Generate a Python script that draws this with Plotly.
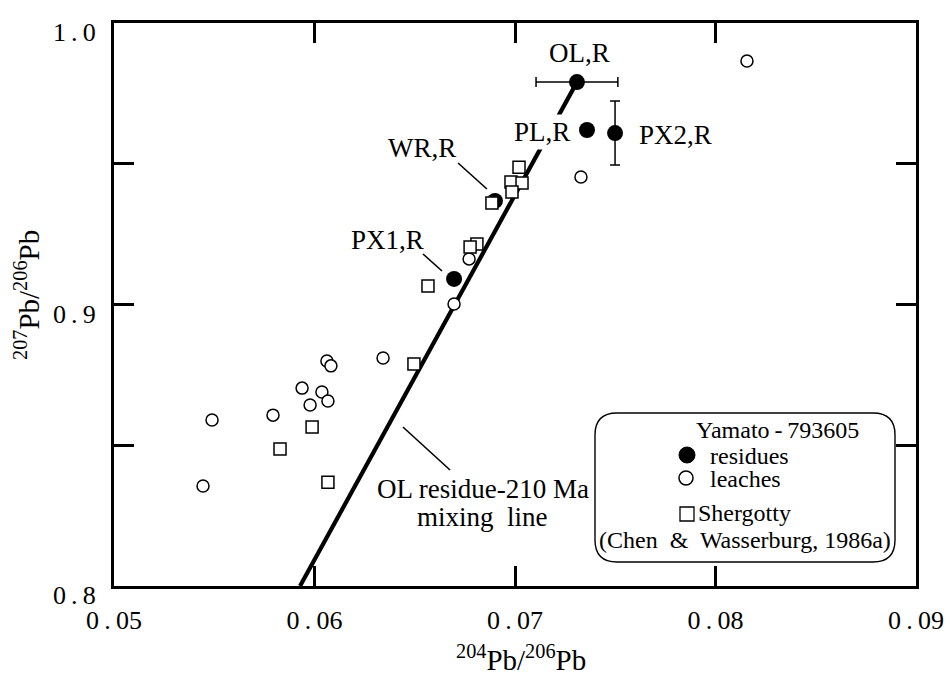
import plotly.graph_objects as go

# ---------------- data ----------------
residue_labels = ["OL,R", "PL,R", "PX2,R", "WR,R", "PX1,R"]
residue_x = [0.07309, 0.07359, 0.07499, 0.06900, 0.06696]
residue_y = [0.9790, 0.9620, 0.9609, 0.9368, 0.9091]
residue_xerr = [0.00204, 0, 0, 0, 0]
residue_yerr = [0, 0, 0.01137, 0, 0]

leach_x = [0.08157, 0.07329, 0.06771, 0.06696, 0.06342, 0.06062, 0.06082,
           0.05938, 0.06037, 0.06067, 0.05978, 0.05793, 0.05489, 0.05444]
leach_y = [0.9865, 0.9453, 0.9162, 0.9002, 0.8810, 0.8799, 0.8782,
           0.8703, 0.8689, 0.8657, 0.8643, 0.8607, 0.8590, 0.8355]

shergotty_x = [0.07020, 0.06980, 0.07035, 0.06985, 0.06885, 0.06810, 0.06776,
               0.06566, 0.06496, 0.05988, 0.05828, 0.06067]
shergotty_y = [0.9488, 0.9435, 0.9432, 0.9400, 0.9361, 0.9215, 0.9204,
               0.9066, 0.8789, 0.8565, 0.8487, 0.8369]

mixing_x = [0.05928, 0.07309]
mixing_y = [0.800, 0.9790]

x_ticks = [0.05, 0.06, 0.07, 0.08, 0.09]
x_ticktext = ["0\u2009.\u200905", "0\u2009.\u200906", "0\u2009.\u200907", "0\u2009.\u200908", "0\u2009.\u200909"]
y_ticks = [0.80, 0.85, 0.90, 0.95, 1.00]
y_ticktext = ["0\u2009.\u20098", "", "0\u2009.\u20099", "", "1\u2009.\u20090"]

# ---------------- layout geometry ----------------
W, H = 950, 675
ML, MR, MT, MB = 114, 34, 23, 89
PW, PH = W - ML - MR, H - MT - MB
FONT = "Liberation Serif"


def px(v):
    return (v - ML) / PW


def py(v):
    return (H - MB - v) / PH


fig = go.Figure()

fig.add_trace(go.Scatter(x=mixing_x, y=mixing_y, mode="lines",
                         line=dict(color="black", width=4.2), hoverinfo="skip",
                         showlegend=False))

fig.add_trace(go.Scatter(
    x=residue_x, y=residue_y, mode="markers",
    marker=dict(symbol="circle", size=16, color="black"),
    error_x=dict(type="data", array=residue_xerr, color="black", thickness=1.5, width=5),
    error_y=dict(type="data", array=residue_yerr, color="black", thickness=1.5, width=5),
    text=residue_labels, showlegend=False))

fig.add_trace(go.Scatter(
    x=leach_x, y=leach_y, mode="markers",
    marker=dict(symbol="circle", size=12, color="white", line=dict(color="black", width=1.5)),
    showlegend=False))

fig.add_trace(go.Scatter(
    x=shergotty_x, y=shergotty_y, mode="markers",
    marker=dict(symbol="square", size=12, color="white", line=dict(color="black", width=1.5)),
    showlegend=False))

# ---------------- labels ----------------
lab_font = dict(family=FONT, size=27, color="black")
C = dict(showarrow=False, xanchor="center", yanchor="middle")
ann = []
ann.append(dict(x=0.07324, y=0.98934, text="OL,R", font=lab_font, **C))
ann.append(dict(x=0.06536, y=0.95560, text="WR,R", font=lab_font, **C))
ann.append(dict(x=0.06362, y=0.92291, text="PX1,R", font=lab_font, **C))
ann.append(dict(x=0.07135, y=0.96128, text="PL,R", font=lab_font,
                bgcolor="white", borderpad=2, **C))
ann.append(dict(x=0.07798, y=0.96021, text="PX2,R", font=lab_font, **C))
ann.append(dict(x=0.06840, y=0.83446, text="OL residue-210 Ma", font=lab_font, **C))
ann.append(dict(x=0.06840, y=0.82451, text="mixing  line", font=lab_font, **C))

# axis titles
ann.append(dict(xref="paper", yref="paper", x=px(521), y=py(658),
                text="<sup>204</sup>Pb/<sup>206</sup>Pb",
                font=dict(family=FONT, size=29, color="black"), **C))
ann.append(dict(xref="paper", yref="paper", x=px(27), y=py(295), textangle=-90,
                text="<sup>207</sup>Pb/<sup>206</sup>Pb",
                font=dict(family=FONT, size=29, color="black"), **C))

# legend texts
leg_font = dict(family=FONT, size=24, color="black")
L_ = dict(showarrow=False, xanchor="left", yanchor="middle")
ann.append(dict(xref="paper", yref="paper", x=px(777), y=py(430), text="Yamato\u2009-\u2009793605",
                font=leg_font, **C))
ann.append(dict(xref="paper", yref="paper", x=px(708), y=py(456), text="residues",
                font=leg_font, **L_))
ann.append(dict(xref="paper", yref="paper", x=px(708), y=py(479), text="leaches",
                font=leg_font, **L_))
ann.append(dict(xref="paper", yref="paper", x=px(696), y=py(513), text="Shergotty",
                font=leg_font, **L_))
ann.append(dict(xref="paper", yref="paper", x=px(745), y=py(540),
                text="(Chen  &  Wasserburg, 1986a)", font=leg_font, **C))

# ---------------- shapes ----------------
shapes = []
lead = dict(color="black", width=1.6)
shapes.append(dict(type="line", xref="x", yref="y", x0=0.06716, y0=0.95027, x1=0.06860, y1=0.94103, line=lead))
shapes.append(dict(type="line", xref="x", yref="y", x0=0.06541, y0=0.91794, x1=0.06636, y1=0.91190, line=lead))
shapes.append(dict(type="line", xref="x", yref="y", x0=0.06441, y0=0.85648, x1=0.06676, y1=0.84121, line=lead))

# legend rounded box
L, R, T, B, r = 595, 895, 413, 562, 22
path = (f"M {px(L + r)},{py(T)} L {px(R - r)},{py(T)} "
        f"Q {px(R)},{py(T)} {px(R)},{py(T + r)} "
        f"L {px(R)},{py(B - r)} Q {px(R)},{py(B)} {px(R - r)},{py(B)} "
        f"L {px(L + r)},{py(B)} Q {px(L)},{py(B)} {px(L)},{py(B - r)} "
        f"L {px(L)},{py(T + r)} Q {px(L)},{py(T)} {px(L + r)},{py(T)} Z")
shapes.append(dict(type="path", xref="paper", yref="paper", path=path,
                   fillcolor="white", line=dict(color="black", width=1.4), layer="above"))
# legend symbols
shapes.append(dict(type="circle", xref="paper", yref="paper", xsizemode="pixel", ysizemode="pixel",
                   xanchor=px(687), yanchor=py(455), x0=-8, x1=8, y0=-8, y1=8,
                   fillcolor="black", line=dict(color="black", width=1), layer="above"))
shapes.append(dict(type="circle", xref="paper", yref="paper", xsizemode="pixel", ysizemode="pixel",
                   xanchor=px(686), yanchor=py(478), x0=-7, x1=7, y0=-7, y1=7,
                   fillcolor="white", line=dict(color="black", width=1.5), layer="above"))
shapes.append(dict(type="rect", xref="paper", yref="paper", xsizemode="pixel", ysizemode="pixel",
                   xanchor=px(687), yanchor=py(514), x0=-7, x1=7, y0=-7, y1=7,
                   fillcolor="white", line=dict(color="black", width=1.3), layer="above"))

axis_common = dict(showline=True, linecolor="black", linewidth=3, mirror="ticks",
                   ticks="inside", ticklen=20, tickwidth=2.5, tickcolor="black",
                   showgrid=False, zeroline=False, automargin=False,
                   tickfont=dict(family=FONT, size=26, color="black"))

fig.update_layout(
    width=W, height=H, autosize=False,
    margin=dict(l=ML, r=MR, t=MT, b=MB),
    paper_bgcolor="white", plot_bgcolor="white",
    xaxis=dict(range=[0.05, 0.09], tickmode="array", tickvals=x_ticks, ticktext=x_ticktext,
               ticklabelstandoff=9, **axis_common),
    yaxis=dict(range=[0.8, 1.0], tickmode="array", tickvals=y_ticks, ticktext=y_ticktext,
               ticklabelstandoff=10, ticklabelshift=9, **axis_common),
    annotations=ann, shapes=shapes, showlegend=False,
)

fig.write_html("out.html")
